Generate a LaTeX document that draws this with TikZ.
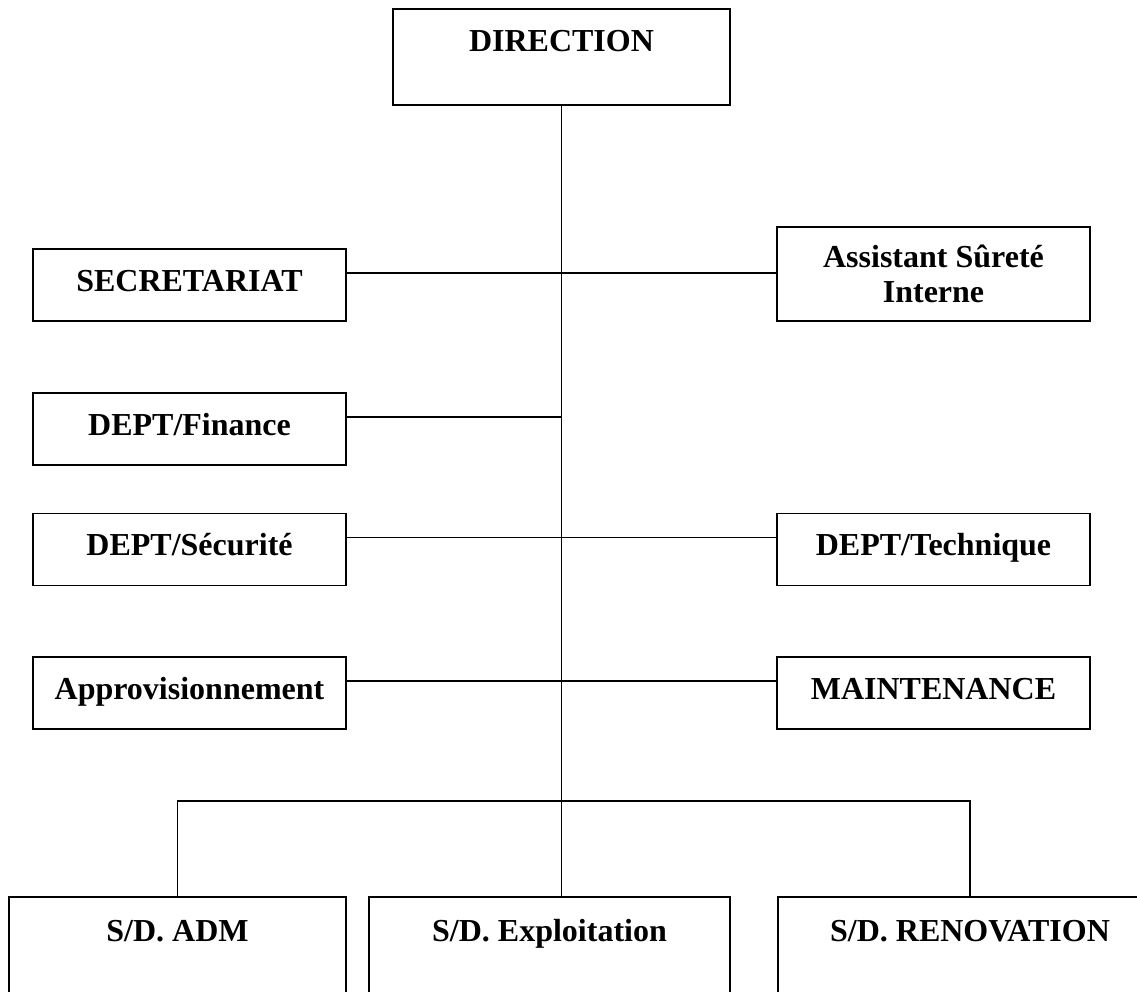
\documentclass[tikz,border=0pt]{standalone}
\usepackage{fontspec}
\setmainfont{Liberation Serif}
\usetikzlibrary{shapes,arrows}

\begin{document}
\begin{tikzpicture}[x=1pt, y=-1pt, node distance = 144pt, auto,
    font=\fontsize{32}{34.5}\selectfont\bfseries]

    % Define block styles
    \tikzstyle{block} = [rectangle, draw, line width=1.3pt, inner sep=0pt,
        text centered, minimum width=313pt, minimum height=72pt]
    \tikzstyle{oneline} = [text height=24pt, text depth=12pt]
    \tikzstyle{topblock} = [block, text height=24pt, text depth=35pt,
        minimum width=337pt, minimum height=96pt]
    \tikzstyle{subblock} = [block, text height=24pt, text depth=39pt,
        minimum height=104pt]
    \tikzstyle{line} = [draw, line width=1.3pt]

    \useasboundingbox (0,0) rectangle (1137,992);

    % Place nodes
    \node [topblock] at (561.5,57) (direction) {DIRECTION};
    \node [block, oneline] at (189.5,285) (secr) {SECRETARIAT};
    \node [block, align=center, minimum height=94pt] at (933.5,274) (assist) {Assistant Sûreté\\Interne};
    \node [block, oneline, node distance=144pt, below of=secr] (finance) {DEPT/Finance};
    \node [block, oneline, node distance=120.5pt, below of=finance] (secu) {DEPT/Sécurité};
    \node [block, oneline, node distance=143.5pt, below of=secu] (appro) {Approvisionnement};
    \node [block, oneline, node distance=744pt, right of=secu] (tech) {DEPT/Technique};
    \node [block, oneline, node distance=744pt, right of=appro] (maint) {MAINTENANCE};
    \node [subblock, minimum width=337pt] at (177.5,949) (adm) {S/D. ADM};
    \node [subblock, minimum width=361pt] at (549.5,949) (exploit) {S/D. Exploitation};
    \node [subblock, minimum width=384pt] at (970,949) (renov) {S/D. RENOVATION};
    \coordinate (bus) at (562,801);

    % Draw edges
    \path [line] (direction.south) -- (direction.south |- exploit.north);
    \path [line] ([yshift=12pt]secr.east) -- ([yshift=12pt]secr.east -| assist.west);
    \path [line] ([yshift=12pt]finance.east) -- ([yshift=12pt]finance.east -| direction.south);
    \path [line] ([yshift=12pt]secu.east) -- ([yshift=12pt]secu.east -| tech.west);
    \path [line] ([yshift=12pt]appro.east) -- ([yshift=12pt]appro.east -| maint.west);
    \path [line] (adm.north) |- (bus) -| (renov.north);

\end{tikzpicture}
\end{document}
